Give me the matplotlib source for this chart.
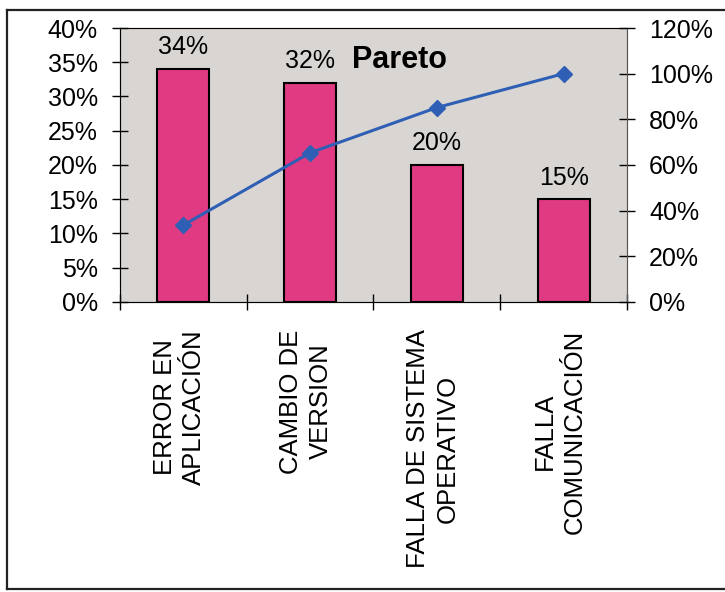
import matplotlib.pyplot as plt
import numpy as np
from matplotlib.lines import Line2D
from matplotlib.ticker import PercentFormatter, MultipleLocator

causas = [
    "ERROR EN\nAPLICACIÓN",
    "CAMBIO DE\nVERSION",
    "FALLA DE SISTEMA\nOPERATIVO",
    "FALLA\nCOMUNICACIÓN",
]
porcentajes = [0.34, 0.32, 0.20, 0.15]
etiquetas = ["34%", "32%", "20%", "15%"]

# acumulado sobre el total, va al eje derecho
acumulado = np.cumsum(porcentajes) / np.sum(porcentajes)

plt.rcParams["font.family"] = ["Liberation Sans", "DejaVu Sans"]

fig = plt.figure(figsize=(7.25, 5.92), dpi=100)
ax = fig.add_axes([0.1655, 0.4899, 0.6993, 0.4628])
ax.set_facecolor("#d9d5d2")

x = np.arange(len(causas))
ax.bar(x, porcentajes, width=0.41, color="#e03a82", edgecolor="black", linewidth=1.5, zorder=2)

for xi, v, txt in zip(x, porcentajes, etiquetas):
    ax.annotate(txt, (xi, v), xytext=(0, 7), textcoords="offset points",
                ha="center", va="bottom", fontsize=18)

ax.set_xlim(-0.5, len(causas) - 0.5)
ax.set_ylim(0, 0.40)
ax.yaxis.set_major_locator(MultipleLocator(0.05))
ax.yaxis.set_major_formatter(PercentFormatter(xmax=1, decimals=0))
ax.tick_params(axis="y", direction="inout", length=12, width=1, labelsize=18, pad=10)

# marcas del eje x entre categorias, estilo Excel
ax.set_xticks(np.arange(-0.5, len(causas), 1.0))
ax.set_xticklabels([])
ax.tick_params(axis="x", direction="inout", length=12, width=1)

for xi, c in zip(x, causas):
    ax.text(xi - 0.03, -0.040, c, rotation=90, ha="center", va="top",
            multialignment="center", fontsize=18.5, linespacing=1.3,
            transform=ax.transData, clip_on=False)

for lado in ["left", "bottom"]:
    ax.spines[lado].set_color("#555555")
for lado in ["top", "right"]:
    ax.spines[lado].set_color("#888888")

ax2 = ax.twinx()
ax2.plot(x, acumulado, color="#2f5fb5", linewidth=2.2, marker="D",
         markersize=8, markerfacecolor="#2f5fb5", zorder=3)
ax2.set_ylim(0, 1.20)
ax2.yaxis.set_major_locator(MultipleLocator(0.20))
ax2.yaxis.set_major_formatter(PercentFormatter(xmax=1, decimals=0))
ax2.tick_params(axis="y", direction="inout", length=12, width=1, labelsize=18, pad=10)
ax2.spines["right"].set_color("#555555")

ax.text(0.552, 0.885, "Pareto", transform=ax.transAxes, ha="center", va="center",
        fontsize=22, fontweight="bold")

# marco exterior del grafico
marco = dict(color="#222222", linewidth=1.6, transform=fig.transFigure)
fig.add_artist(Line2D([7 / 725, 7 / 725], [3 / 592, 582 / 592], **marco))
fig.add_artist(Line2D([7 / 725, 1.0], [582 / 592, 582 / 592], **marco))
fig.add_artist(Line2D([7 / 725, 1.0], [3 / 592, 3 / 592], **marco))

fig.savefig("out.png", dpi=100)
